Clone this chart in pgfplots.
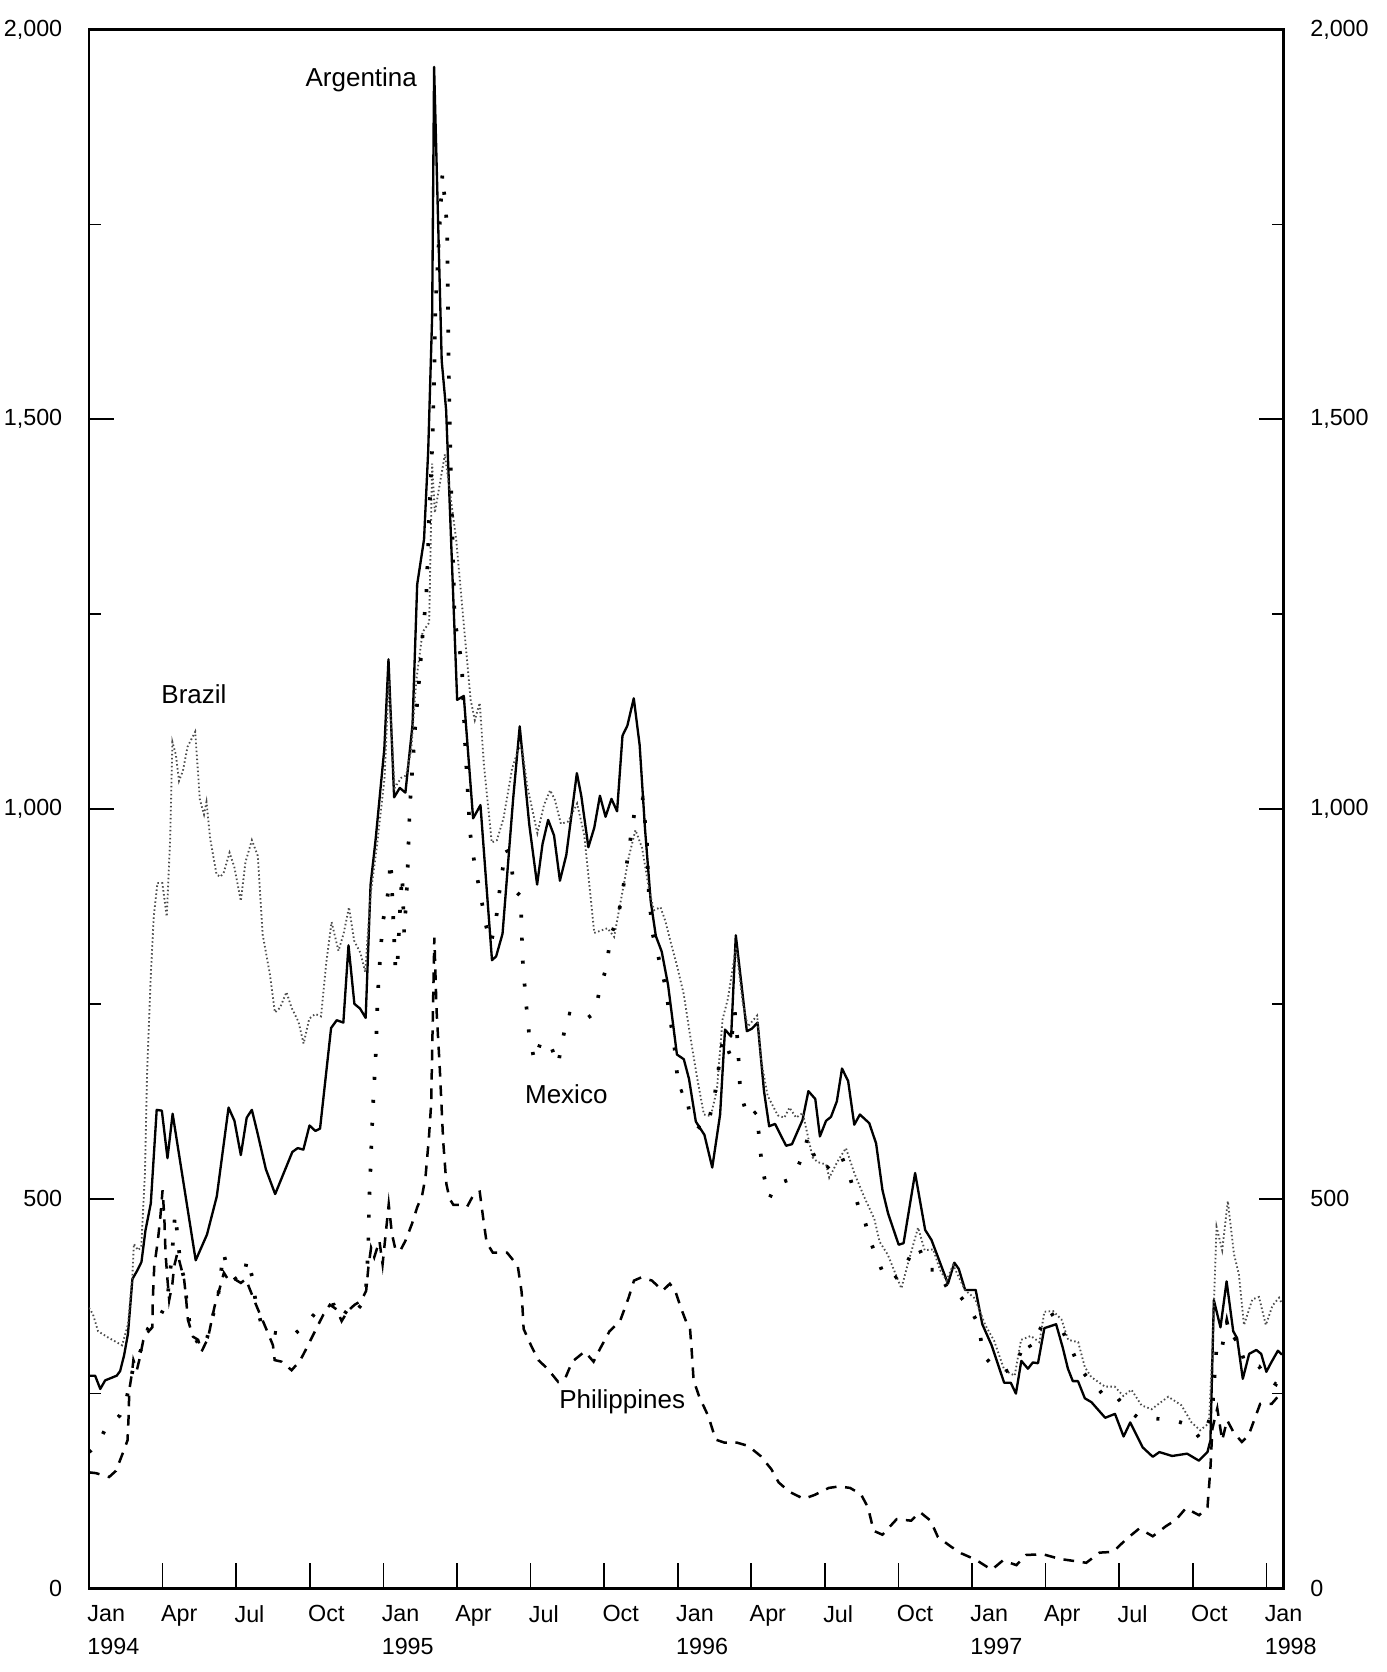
\documentclass[border=0pt]{standalone}
\usepackage{fontspec}
\setmainfont{Liberation Sans}
\usepackage{pgfplots}
\usepackage{pgfplotstable}
\pgfplotsset{compat=1.18}

\pgfplotstableread{
x y
0.00 273
0.25 273
0.46 256
0.66 267
1.13 273
1.27 279
1.43 299
1.59 327
1.77 397
1.97 408
2.14 419
2.30 459
2.52 494
2.76 614
2.97 613
3.20 552
3.41 609
4.35 421
4.81 454
5.21 503
5.69 617
5.93 600
6.19 556
6.43 604
6.64 614
6.85 587
7.21 538
7.59 506
8.29 560
8.51 565
8.74 563
8.99 594
9.23 587
9.42 590
9.87 719
10.10 729
10.37 726
10.58 825
10.82 750
11.05 744
11.28 732
11.48 903
11.68 959
12.04 1077
12.21 1192
12.44 1015
12.67 1027
12.90 1021
13.19 1108
13.38 1288
13.66 1346
13.83 1460
13.99 1632
14.07 1952
14.38 1575
14.56 1512
15.01 1140
15.28 1145
15.66 988
15.96 1005
16.43 806
16.60 811
16.86 840
17.29 1012
17.56 1106
17.95 980
18.27 903
18.49 955
18.72 986
18.96 966
19.20 908
19.46 941
19.89 1046
20.07 1017
20.36 951
20.60 976
20.83 1017
21.06 990
21.30 1013
21.53 997
21.75 1094
21.95 1107
22.21 1142
22.45 1082
22.67 974
22.90 882
23.11 837
23.35 817
23.61 774
23.97 685
24.25 679
24.46 654
24.74 599
25.09 582
25.41 540
25.73 608
25.93 717
26.18 708
26.37 838
26.82 715
27.02 718
27.26 726
27.52 638
27.73 593
27.97 596
28.42 568
28.66 570
29.09 601
29.33 638
29.61 628
29.80 580
30.05 600
30.25 605
30.49 625
30.70 667
30.95 651
31.20 595
31.43 608
31.81 597
32.09 571
32.35 511
32.58 481
33.01 441
33.21 443
33.68 533
34.09 460
34.35 447
35.02 391
35.28 418
35.46 410
35.72 383
36.15 383
36.42 339
36.80 312
37.31 264
37.58 264
37.79 250
38.01 292
38.28 282
38.48 290
38.69 289
38.95 334
39.43 339
39.70 309
39.91 282
40.11 266
40.32 266
40.60 244
40.87 239
41.43 219
41.83 224
42.18 195
42.45 213
42.96 181
43.37 169
43.64 175
44.16 170
44.77 173
45.25 164
45.60 175
45.72 190
45.86 370
46.13 335
46.38 394
46.65 330
46.81 321
47.04 269
47.30 301
47.59 306
47.79 301
48.00 278
48.20 290
48.47 305
48.64 300
}\argtab

\pgfplotstableread{
x y
0.00 360
0.16 352
0.37 330
0.78 322
1.35 312
1.59 339
1.77 402
1.83 442
2.00 434
2.13 438
2.28 532
2.37 663
2.52 787
2.64 862
2.79 905
2.99 905
3.17 862
3.31 962
3.40 1086
3.54 1070
3.67 1036
3.83 1049
4.02 1080
4.33 1099
4.52 1012
4.69 993
4.79 1009
4.94 962
5.20 916
5.36 913
5.50 919
5.73 944
5.93 925
6.19 882
6.38 932
6.64 960
6.88 940
7.08 839
7.37 789
7.58 739
7.79 745
8.05 765
8.26 745
8.54 727
8.75 699
8.98 731
9.22 737
9.46 734
9.67 802
9.89 855
10.17 818
10.38 840
10.60 874
10.81 831
11.07 815
11.26 791
11.48 890
11.74 953
12.05 1040
12.22 1164
12.46 1027
12.73 1040
12.93 1043
13.14 1077
13.34 1164
13.60 1227
13.87 1239
13.99 1443
14.10 1380
14.51 1455
14.97 1346
15.30 1230
15.56 1140
15.73 1114
15.93 1136
16.10 1057
16.42 957
16.63 960
16.90 988
17.25 1052
17.52 1078
17.66 1078
17.87 1029
18.28 969
18.55 1005
18.80 1024
18.99 1012
19.24 981
19.54 984
19.90 1007
20.19 967
20.60 841
20.87 844
21.14 847
21.41 836
21.68 882
22.01 939
22.28 973
22.55 950
22.82 899
23.03 870
23.30 874
23.50 856
23.70 831
23.98 798
24.25 762
24.53 705
24.80 654
25.07 608
25.35 606
25.60 640
25.83 730
26.05 757
26.38 823
26.65 752
26.86 721
27.24 735
27.40 678
27.67 632
28.08 607
28.35 604
28.56 617
28.83 604
29.10 610
29.50 553
29.71 547
30.05 544
30.18 527
30.52 548
30.86 565
31.20 533
31.61 502
32.02 474
32.23 445
32.57 428
33.12 385
33.39 417
33.80 463
34.07 434
34.42 435
34.69 409
34.96 395
35.23 415
35.71 383
36.12 372
36.54 338
36.90 318
37.32 280
37.74 273
38.00 319
38.40 324
38.75 316
38.95 355
39.30 356
39.65 345
39.92 319
40.33 316
40.60 284
40.87 271
41.42 259
41.82 259
42.17 247
42.50 255
42.91 235
43.32 230
44.00 246
44.54 235
44.95 213
45.30 203
45.66 212
45.80 307
45.97 464
46.20 434
46.43 497
46.68 429
46.88 403
47.09 338
47.43 371
47.70 374
47.98 338
48.25 363
48.52 373
48.64 365
}\braztab

\pgfplotstableread{
x y
0.00 175
0.07 177
0.41 189
0.71 207
1.26 222
1.51 241
1.81 284
1.95 292
2.21 314
2.40 333
2.81 344
3.08 361
3.22 379
3.40 434
3.51 481
3.63 447
3.72 417
3.86 400
4.10 340
4.31 322
4.59 307
4.82 322
5.04 349
5.25 371
5.48 431
5.64 411
5.84 403
6.05 394
6.32 401
6.45 423
6.66 399
6.80 366
7.08 333
7.35 329
7.80 327
8.38 326
8.85 340
9.22 353
9.67 362
9.98 364
10.28 347
10.41 352
10.68 364
10.89 356
11.16 366
11.29 384
11.38 433
11.42 493
11.49 549
11.56 608
11.70 691
11.77 760
11.85 800
11.97 853
12.18 890
12.30 934
12.44 835
12.50 791
12.58 803
12.70 884
12.77 915
12.85 841
12.97 903
13.08 1003
13.29 1102
13.49 1177
13.62 1231
13.75 1271
13.86 1368
14.00 1471
14.08 1563
14.12 1643
14.41 1815
14.60 1747
14.66 1575
14.75 1432
14.91 1243
15.20 1186
15.32 1091
15.53 971
15.74 925
15.96 891
16.18 851
16.39 828
16.59 857
16.79 908
17.00 949
17.20 937
17.32 897
17.60 888
17.67 811
17.81 754
17.95 709
18.16 677
18.44 703
18.78 700
19.12 672
19.52 738
19.93 735
20.20 729
20.60 738
20.88 775
21.08 795
21.28 839
21.55 859
21.75 893
21.97 939
22.20 988
22.34 1011
22.57 1014
22.74 962
22.82 893
22.97 841
23.28 802
23.49 774
23.68 734
23.87 694
24.05 637
24.33 640
24.52 602
24.90 591
25.20 591
25.50 631
25.85 706
26.12 686
26.33 740
26.45 700
26.55 638
26.70 621
26.88 603
27.22 612
27.44 540
27.60 518
27.75 501
28.00 518
28.50 524
28.90 541
29.17 561
29.30 579
29.51 559
29.78 541
30.05 538
30.32 547
30.66 556
31.00 530
31.36 491
31.63 471
31.90 442
32.33 408
32.67 394
33.15 405
33.50 428
33.78 440
34.04 423
34.25 409
34.59 409
35.08 380
35.41 379
35.90 360
36.23 341
36.37 318
36.50 298
36.92 283
37.33 278
37.74 283
38.00 304
38.20 319
38.40 309
38.80 334
39.20 355
39.62 335
40.10 304
40.37 284
40.79 267
41.20 254
41.53 242
41.94 244
42.28 232
42.76 219
43.30 218
44.10 217
44.83 210
45.32 192
45.60 210
45.79 226
45.98 314
46.18 307
46.39 342
46.57 317
46.80 322
47.15 287
47.70 285
48.05 269
48.39 262
48.60 277
}\mextab

\pgfplotstableread{
x y
0.00 149
0.28 148
0.82 143
1.10 151
1.37 173
1.57 190
1.62 224
1.64 254
1.75 276
1.81 293
1.95 280
2.08 297
2.21 318
2.35 327
2.58 335
2.60 370
2.66 413
2.81 447
2.91 477
3.00 511
3.07 477
3.12 430
3.20 396
3.27 370
3.40 391
3.47 413
3.60 430
3.71 417
3.88 396
3.95 375
4.03 345
4.24 323
4.45 319
4.59 304
4.85 321
5.12 362
5.32 384
5.50 405
5.66 397
5.93 397
6.19 392
6.40 397
6.53 386
6.67 375
6.81 364
7.01 349
7.28 329
7.50 312
7.57 293
7.85 291
8.26 280
8.60 292
8.80 304
9.07 321
9.34 338
9.55 351
9.82 364
10.10 358
10.30 343
10.55 356
10.83 364
11.10 369
11.30 382
11.39 412
11.50 437
11.63 425
11.84 446
11.97 416
12.22 493
12.35 455
12.50 434
12.70 434
12.90 446
13.17 468
13.38 489
13.58 504
13.72 528
13.86 579
13.95 622
14.08 835
14.17 742
14.30 668
14.44 574
14.57 519
14.70 500
14.86 492
15.13 492
15.42 490
15.71 507
15.93 509
16.08 473
16.21 444
16.46 431
17.04 431
17.48 414
17.64 380
17.72 333
18.02 312
18.32 293
18.69 282
19.13 265
19.42 270
19.70 291
20.21 304
20.57 291
20.86 309
21.22 330
21.65 343
22.00 373
22.22 395
22.51 399
22.95 395
23.39 382
23.68 391
23.90 382
24.12 361
24.35 342
24.50 335
24.57 306
24.65 267
24.88 246
25.25 221
25.55 191
25.92 187
26.43 187
26.87 183
27.38 170
27.82 153
28.12 136
28.56 124
29.14 115
29.58 120
30.16 129
30.59 131
31.03 129
31.47 121
31.76 104
31.99 74
32.35 69
32.93 89
33.52 87
33.88 98
34.31 87
34.61 66
35.13 54
35.57 45
36.15 37
36.80 24
37.26 36
37.81 30
38.21 43
38.89 44
39.57 38
40.66 33
41.20 46
41.75 47
42.28 63
42.82 77
43.37 67
43.91 80
44.31 88
44.72 103
45.26 94
45.60 104
45.72 154
45.80 205
46.00 231
46.20 190
46.40 216
46.67 200
47.00 188
47.27 196
47.75 237
48.22 237
48.63 252
}\philtab

\begin{document}
\begin{tikzpicture}
\begin{axis}[
  scale only axis,
  width=358.35pt, height=467.7pt,
  xmin=0, xmax=48.7, ymin=0, ymax=2000,
  axis line style={line width=0.8pt},
  tick align=inside,
  major tick length=7.5pt, minor tick length=3.5pt,
  tick style={line width=0.5pt, black},
  xtick={0,3,...,48},
  xticklabels={{Jan\\1994},Apr,Jul,Oct,{Jan\\1995},Apr,Jul,Oct,{Jan\\1996},Apr,Jul,Oct,{Jan\\1997},Apr,Jul,Oct,{Jan\\1998}},
  xtick pos=bottom,
  xticklabel style={font=\fontsize{7}{10}\selectfont, align=left, anchor=north west, xshift=-4pt, yshift=-1.5pt},
  ytick={0,500,1000,1500,2000},
  yticklabels={0,500,{1,000},{1,500},{2,000}},
  minor ytick={250,750,1250,1750},
  ytick pos=both,
  yticklabel style={font=\fontsize{7}{8}\selectfont, xshift=-4.5pt},
]
\addplot[black, line width=0.7pt, line join=round] table {\argtab};
\addplot[black!70, line width=0.55pt, dash pattern=on 0.45pt off 0.75pt] table {\braztab};
\addplot[black, line width=1.1pt, dash pattern=on 0.9pt off 6pt] table {\mextab};
\addplot[black, line width=0.75pt, dash pattern=on 3.2pt off 2.6pt] table {\philtab};
\node[font=\fontsize{7.8}{9}\selectfont] at (axis cs:11.1,1935) {Argentina};
\node[font=\fontsize{7.8}{9}\selectfont] at (axis cs:4.28,1147) {Brazil};
\node[font=\fontsize{7.8}{9}\selectfont] at (axis cs:19.46,634) {Mexico};
\node[font=\fontsize{7.8}{9}\selectfont] at (axis cs:21.74,240) {Philippines};
\end{axis}
\begin{axis}[
  scale only axis,
  width=358.35pt, height=467.7pt,
  xmin=0, xmax=48.7, ymin=0, ymax=2000,
  hide x axis,
  axis y line*=right,
  axis line style={line width=0.8pt},
  tick align=inside,
  major tick length=7.5pt, minor tick length=3.5pt,
  tick style={line width=0.5pt, black},
  ytick={0,500,1000,1500,2000},
  yticklabels={0,500,{1,000},{1,500},{2,000}},
  minor ytick={250,750,1250,1750},
  yticklabel style={font=\fontsize{7}{8}\selectfont, xshift=4.5pt},
]
\end{axis}
\pgfresetboundingbox
\path[use as bounding box] ([xshift=-26.7pt,yshift=-25.05pt]current axis.south west) rectangle ([xshift=31.05pt,yshift=8.85pt]current axis.north east);
\end{tikzpicture}
\end{document}
